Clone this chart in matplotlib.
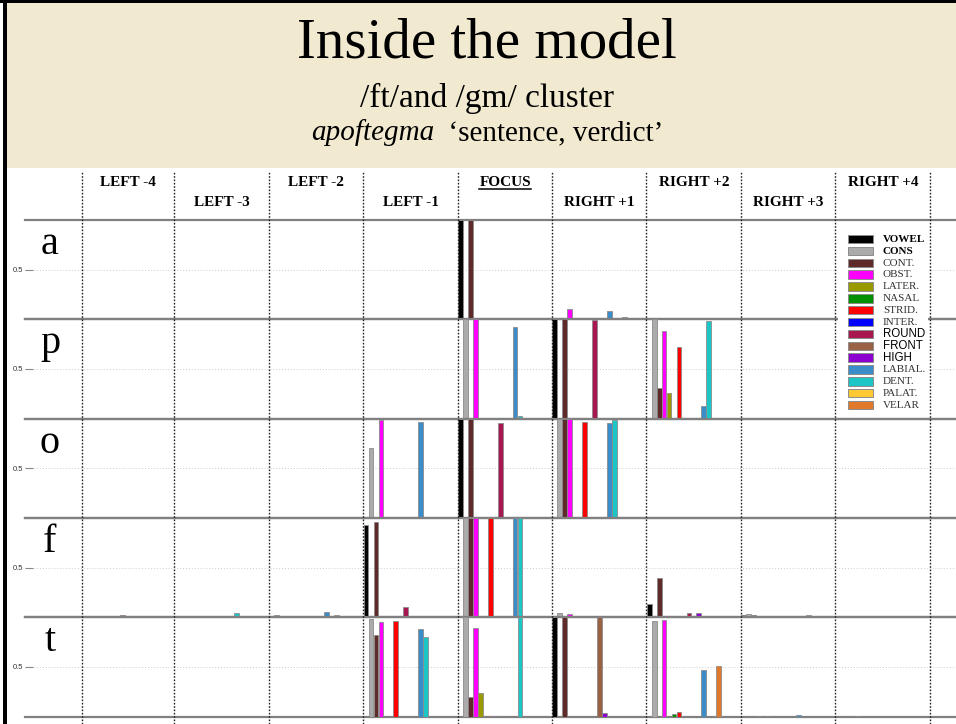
import matplotlib
matplotlib.use('Agg')
import matplotlib.pyplot as plt
from matplotlib.patches import Rectangle
from matplotlib.transforms import blended_transform_factory

# ---------------- data ----------------
features = ['VOWEL', 'CONS', 'CONT.', 'OBST.', 'LATER.', 'NASAL', 'STRID.', 'INTER.',
            'ROUND', 'FRONT', 'HIGH', 'LABIAL.', 'DENT.', 'PALAT.', 'VELAR']
feature_colors = ['#000000', '#ababab', '#5f2a2a', '#ff00ff', '#999900', '#009000', '#ff0000',
                  '#0000ff', '#a8174f', '#9a6244', '#8c00d0', '#3a8dc8', '#1cc6c6', '#ffc933', '#e07a2a']
positions = ['LEFT -4', 'LEFT -3', 'LEFT -2', 'LEFT -1', 'FOCUS',
             'RIGHT +1', 'RIGHT +2', 'RIGHT +3', 'RIGHT +4']
segments = ['a', 'p', 'o', 'f', 't']

#          VOW  CONS CONT OBST LAT  NAS  STR  INT  RND  FRO  HIG  LAB  DEN  PAL  VEL
seg_a = [[0,   0,   0,   0,   0,   0,   0,   0,   .01, 0,   0,   0,   0,   0,   0],
         [0,   0,   0,   0,   0,   0,   0,   0,   0,   0,   0,   0,   0,   0,   0],
         [0,   0,   0,   0,   0,   0,   0,   0,   0,   0,   0,   0,   0,   0,   0],
         [0,   0,   0,   0,   0,   .01, 0,   0,   0,   0,   0,   0,   0,   0,   0],
         [1.0, 0,   1.0, 0,   0,   0,   .01, 0,   0,   0,   0,   0,   0,   0,   0],
         [0,   0,   0,   .10, 0,   0,   0,   0,   0,   0,   0,   .08, 0,   0,   .02],
         [0,   0,   0,   0,   0,   0,   0,   0,   .01, 0,   0,   0,   0,   0,   0],
         [0,   0,   0,   0,   0,   .01, 0,   0,   0,   0,   0,   0,   0,   0,   0],
         [0,   0,   0,   0,   0,   0,   0,   0,   0,   0,   0,   0,   0,   0,   0]]

seg_p = [[0,   0,   0,   0,   0,   0,   0,   0,   0,   0,   0,   0,   .01, 0,   0],
         [0,   0,   0,   0,   0,   0,   0,   0,   0,   0,   0,   0,   0,   0,   0],
         [0,   0,   0,   0,   0,   0,   0,   0,   0,   0,   0,   0,   0,   0,   0],
         [0,   0,   0,   0,   0,   0,   0,   0,   0,   0,   0,   0,   0,   0,   0],
         [0,   1.0, 0,   1.0, 0,   0,   .01, 0,   0,   0,   0,   .92, .03, 0,   .01],
         [1.0, 0,   1.0, 0,   0,   0,   .01, 0,   .99, 0,   0,   0,   0,   0,   0],
         [0,   1.0, .31, .88, .26, 0,   .72, 0,   0,   0,   0,   .13, .98, 0,   0],
         [0,   0,   0,   0,   0,   0,   0,   0,   0,   0,   0,   0,   0,   0,   0],
         [0,   0,   0,   0,   0,   0,   0,   0,   0,   0,   0,   0,   0,   0,   0]]

seg_o = [[0,   0,   0,   0,   0,   0,   0,   0,   0,   0,   0,   0,   0,   0,   0],
         [0,   0,   0,   0,   0,   0,   0,   0,   0,   0,   0,   0,   0,   0,   0],
         [0,   0,   0,   0,   0,   0,   0,   0,   0,   0,   0,   0,   0,   0,   0],
         [0,   .70, 0,   .99, 0,   0,   0,   0,   0,   0,   0,   .97, 0,   0,   .01],
         [1.0, 0,   1.0, 0,   0,   0,   0,   0,   .96, 0,   0,   0,   0,   0,   0],
         [0,   1.0, 1.0, 1.0, .01, 0,   .97, 0,   0,   0,   0,   .96, .99, 0,   0],
         [0,   0,   0,   .01, 0,   0,   0,   0,   0,   0,   0,   0,   0,   0,   0],
         [.01, 0,   0,   0,   0,   0,   0,   0,   0,   0,   0,   0,   0,   0,   0],
         [0,   0,   0,   0,   0,   0,   0,   0,   0,   0,   0,   0,   0,   0,   0]]

seg_f = [[0,   0,   .01, 0,   0,   0,   0,   0,   .02, 0,   0,   0,   0,   .01, 0],
         [0,   0,   0,   0,   0,   0,   0,   0,   0,   0,   0,   0,   .04, 0,   0],
         [0,   .02, 0,   0,   0,   0,   0,   0,   0,   0,   0,   .05, 0,   .02, 0],
         [.93, 0,   .96, 0,   0,   0,   0,   0,   .10, 0,   .01, 0,   0,   0,   0],
         [0,   1.0, 1.0, 1.0, 0,   0,   1.0, 0,   0,   0,   0,   1.0, 1.0, 0,   0],
         [0,   .04, 0,   .03, 0,   0,   0,   .01, 0,   0,   0,   0,   .01, .01, 0],
         [.13, 0,   .39, 0,   0,   .01, 0,   0,   .04, 0,   .04, 0,   0,   0,   0],
         [.02, .03, .02, .01, 0,   .01, 0,   0,   0,   .01, 0,   .01, 0,   .02, 0],
         [0,   0,   0,   .01, 0,   0,   0,   0,   0,   .01, 0,   0,   0,   .01, 0]]

seg_t = [[0,   0,   0,   0,   0,   0,   0,   0,   0,   0,   0,   0,   0,   0,   0],
         [0,   0,   0,   0,   0,   0,   0,   0,   0,   0,   0,   0,   0,   0,   0],
         [0,   0,   0,   0,   0,   0,   0,   0,   0,   0,   0,   0,   0,   0,   0],
         [0,   .98, .82, .95, 0,   0,   .96, 0,   0,   0,   0,   .88, .80, 0,   0],
         [0,   1.0, .20, .89, .24, 0,   .01, .01, 0,   0,   0,   0,   1.0, 0,   0],
         [1.0, 0,   1.0, 0,   0,   0,   0,   0,   0,   1.0, .04, 0,   0,   0,   0],
         [0,   .96, 0,   .97, 0,   .03, .05, 0,   0,   0,   0,   .47, 0,   0,   .51],
         [0,   0,   0,   .01, 0,   .01, 0,   0,   0,   0,   0,   .02, 0,   0,   0],
         [0,   0,   0,   0,   .01, 0,   0,   0,   0,   0,   0,   0,   0,   0,   0]]

segment_data = [seg_a, seg_p, seg_o, seg_f, seg_t]

# ---------------- layout ----------------
W, H = 956, 724
fig = plt.figure(figsize=(W / 100, H / 100), dpi=100)
fig.patch.set_facecolor('white')

SERIF = ['Liberation Serif', 'DejaVu Serif']
SANS = ['Liberation Sans', 'DejaVu Sans']

GROUP = 19                      # slots per position (15 features + gap)
unit = 94.4 / GROUP             # pixels per slot
g0 = 80.4                       # pixel x of first group start
ax_left_px = 25
x0 = (ax_left_px - g0) / unit
x1 = x0 + (W - ax_left_px) / unit

panel_top = 220
panel_h = 99.3

axes = []
for r, seg in enumerate(segments):
    top = panel_top + r * panel_h
    ax = fig.add_axes([ax_left_px / W, 1 - (top + panel_h) / H,
                       (W - ax_left_px) / W + 0.01, panel_h / H])
    ax.set_xlim(x0, x1 + 0.01 * W / unit)
    ax.set_ylim(0, 1)
    data = segment_data[r]
    for p in range(len(positions)):
        xs = [p * GROUP + k for k in range(len(features))]
        ax.bar(xs, data[p], width=0.96, align='edge', color=feature_colors,
               edgecolor='#8c8c8c', linewidth=0.6, zorder=3)
    for s in ['left', 'right']:
        ax.spines[s].set_visible(False)
    for s in ['top', 'bottom']:
        ax.spines[s].set_color('#808080')
        ax.spines[s].set_linewidth(1.6)
    ax.set_xticks([])
    ax.set_yticks([0.5])
    ax.set_yticklabels(['0.5'], fontsize=5.5, family=SANS, color='#333333')
    ax.tick_params(axis='y', direction='in', length=6, width=0.8, color='#888888', pad=1.5)
    ax.yaxis.grid(True, linestyle=(0, (1, 2)), color='#cccccc', linewidth=0.7, zorder=0)
    ax.set_axisbelow(True)
    ax.patch.set_alpha(0)
    axes.append(ax)

# ---------------- pixel overlay (title box, labels, legend) ----------------
pix = fig.add_axes([0, 0, 1, 1], zorder=15)
pix.set_xlim(0, W)
pix.set_ylim(H, 0)
pix.axis('off')
pix.patch.set_alpha(0)

pix.add_patch(Rectangle((6, 1), W, 167, facecolor='#f2ead0', edgecolor='none'))
pix.add_patch(Rectangle((0, 0), W, 2.5, facecolor='black', edgecolor='none'))
pix.add_patch(Rectangle((3.5, 0), 3.2, H, facecolor='black', edgecolor='none'))

pix.text(487, 58, 'Inside the model', fontsize=41, family=SERIF, ha='center', va='baseline')
pix.text(487, 107, '/ft/and /gm/ cluster', fontsize=24, family=SERIF, ha='center', va='baseline')
t1 = pix.text(0, 140, 'apoftegma', fontsize=21, family=SERIF, style='italic', ha='left', va='baseline')
t2 = pix.text(0, 140, '  \u2018sentence, verdict\u2019', fontsize=21, family=SERIF, ha='left', va='baseline')

# segment letters
for r, seg in enumerate(segments):
    top = panel_top + r * panel_h
    pix.text(50, top + 34, seg, fontsize=29, family=SERIF, ha='center', va='baseline')

# legend box
lx0, ly0 = 838, 227
pix.add_patch(Rectangle((lx0, ly0), 928 - lx0, 415 - ly0, facecolor='white', edgecolor='none'))
step = 11.86
for i, (name, col) in enumerate(zip(features, feature_colors)):
    yc = 239 + i * step
    pix.add_patch(Rectangle((848, yc - 4.2), 25, 8.4, facecolor=col, edgecolor='#8c8c8c', linewidth=0.7))
    if name in ('VOWEL', 'CONS'):
        pix.text(883, yc + 0.3, name, fontsize=8, family=SERIF, weight='bold', va='center', ha='left')
    elif name in ('ROUND', 'FRONT', 'HIGH'):
        pix.text(883, yc + 0.3, name, fontsize=8.3, family=SANS, va='center', ha='left')
    else:
        pix.text(883, yc + 0.3, name, fontsize=8, family=SERIF, va='center', ha='left', color='#333333')

# ---------------- dividers and position headers ----------------
ov = fig.add_axes([ax_left_px / W, 0, (W - ax_left_px) / W + 0.01, 1 - 172 / H], zorder=20)
ov.set_xlim(axes[0].get_xlim())
ov.set_ylim(0, 1)
ov.axis('off')
ov.patch.set_alpha(0)
for p in range(len(positions) + 1):
    ov.axvline(p * GROUP - 0.1 + (0.5 if p == 0 else 0), color='#222222', linewidth=1.0,
               linestyle=(0, (1.2, 1.2)))

tr = blended_transform_factory(ov.transData, fig.transFigure)
header_texts = []
for p, name in enumerate(positions):
    y = 186 if p % 2 == 0 else 206
    t = fig.text(p * GROUP + 9.5, 1 - y / H, name, transform=tr, fontsize=11, family=SERIF,
                 weight='bold', ha='center', va='baseline', zorder=25)
    header_texts.append(t)

fig.canvas.draw()
r = fig.canvas.get_renderer()
# centre the italic + roman parts of the gloss line together
w1 = t1.get_window_extent(r).width
w2 = t2.get_window_extent(r).width
start = 487 - (w1 + w2) / 2
t1.set_x(start)
t2.set_x(start + w1)
# underline FOCUS
bb = header_texts[positions.index('FOCUS')].get_window_extent(r)
pix.plot([bb.x0, bb.x1], [188.5, 188.5], color='black', linewidth=1.1)

fig.savefig('out.png', dpi=100)
